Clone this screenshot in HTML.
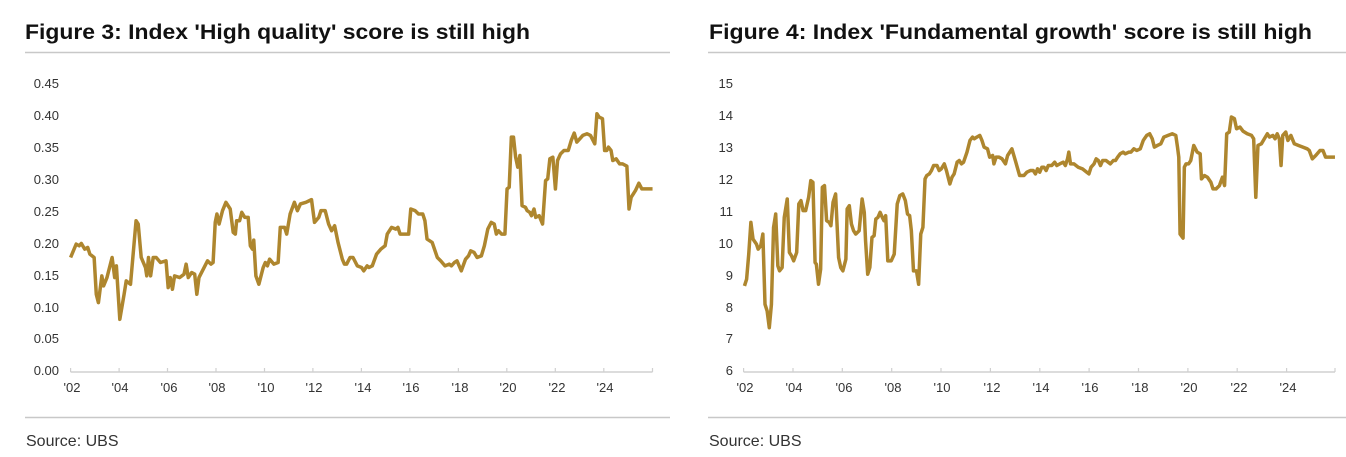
<!DOCTYPE html>
<html><head><meta charset="utf-8"><style>
html,body{margin:0;padding:0;background:#fff;}
svg{display:block;font-family:"Liberation Sans",sans-serif;}
</style></head><body>
<svg width="1346" height="457" viewBox="0 0 1346 457" xmlns="http://www.w3.org/2000/svg">
<rect width="1346" height="457" fill="#fff"/>
<!-- Left panel -->
<text x="25" y="39" font-size="21" font-weight="bold" fill="#111" textLength="505" lengthAdjust="spacingAndGlyphs">Figure 3: Index 'High quality' score is still high</text>
<line x1="25" y1="52.5" x2="670" y2="52.5" stroke="#c8c8c8" stroke-width="1.5"/>
<line x1="25" y1="417.5" x2="670" y2="417.5" stroke="#c8c8c8" stroke-width="1.5"/>
<text x="26" y="446" font-size="16" fill="#333">Source: UBS</text>
<g font-size="13" fill="#333" text-anchor="end">
<text x="59" y="88">0.45</text><text x="59" y="120">0.40</text><text x="59" y="152">0.35</text><text x="59" y="184">0.30</text><text x="59" y="216">0.25</text><text x="59" y="248">0.20</text><text x="59" y="280">0.15</text><text x="59" y="312">0.10</text><text x="59" y="343">0.05</text><text x="59" y="375">0.00</text>
</g>
<line x1="70.6" y1="372" x2="652.5" y2="372" stroke="#d0d0d0" stroke-width="1.5"/>
<g stroke="#d0d0d0" stroke-width="1.2">
<line x1="70.6" y1="368" x2="70.6" y2="372"/><line x1="119.1" y1="368" x2="119.1" y2="372"/><line x1="167.5" y1="368" x2="167.5" y2="372"/><line x1="216" y1="368" x2="216" y2="372"/><line x1="264.5" y1="368" x2="264.5" y2="372"/><line x1="312.9" y1="368" x2="312.9" y2="372"/><line x1="361.4" y1="368" x2="361.4" y2="372"/><line x1="409.9" y1="368" x2="409.9" y2="372"/><line x1="458.4" y1="368" x2="458.4" y2="372"/><line x1="506.8" y1="368" x2="506.8" y2="372"/><line x1="555.3" y1="368" x2="555.3" y2="372"/><line x1="603.8" y1="368" x2="603.8" y2="372"/><line x1="652.5" y1="368" x2="652.5" y2="372"/>
</g>
<g font-size="13" fill="#333" text-anchor="middle">
<text x="72" y="392">'02</text><text x="120" y="392">'04</text><text x="169" y="392">'06</text><text x="217" y="392">'08</text><text x="266" y="392">'10</text><text x="314" y="392">'12</text><text x="363" y="392">'14</text><text x="411" y="392">'16</text><text x="460" y="392">'18</text><text x="508" y="392">'20</text><text x="557" y="392">'22</text><text x="605" y="392">'24</text>
</g>
<g transform="scale(0.4279,0.3344)">
<polyline fill="none" stroke="#ae862e" stroke-width="3.5" stroke-linejoin="round" vector-effect="non-scaling-stroke" points="165,770 178,730 185,735 190,728 198,745 205,740 210,760 220,770 225,880 230,905 238,825 242,855 250,830 262,770 268,830 272,795 280,955 290,880 295,840 300,845 305,850 318,660 323,670 330,770 340,800 343,825 347,770 352,825 358,770 365,770 375,785 388,780 393,860 398,830 403,865 408,825 420,830 430,820 435,790 440,830 448,815 455,820 460,880 465,830 475,805 485,780 493,790 498,785 503,665 507,640 512,670 520,630 528,605 538,625 545,695 550,700 553,660 560,660 565,635 572,650 580,650 585,735 590,745 593,718 598,825 605,850 615,800 620,785 625,795 630,775 640,790 650,785 655,680 665,680 670,700 678,640 688,605 695,630 702,610 715,605 728,597 735,665 745,650 750,630 760,630 768,670 775,690 782,675 790,725 800,775 805,790 810,790 818,770 825,770 835,795 845,800 850,810 858,795 862,800 870,795 880,760 890,745 900,735 905,700 915,680 925,685 930,680 935,700 945,700 955,700 960,625 970,630 978,640 988,640 993,660 998,715 1010,725 1022,770 1030,780 1040,795 1050,790 1055,795 1062,785 1068,780 1078,810 1088,775 1095,765 1100,750 1108,755 1115,770 1125,765 1132,735 1140,685 1148,665 1155,670 1160,700 1165,690 1172,700 1180,700 1185,565 1190,560 1195,410 1200,410 1205,470 1210,500 1215,465 1220,615 1228,620 1232,630 1238,635 1242,645 1248,625 1252,650 1260,645 1268,670 1275,540 1280,535 1285,475 1292,470 1298,565 1303,480 1310,460 1318,450 1328,450 1335,420 1342,398 1348,425 1355,415 1362,405 1372,400 1380,405 1390,430 1395,340 1400,350 1408,355 1413,450 1418,450 1422,440 1428,450 1432,480 1440,475 1448,490 1455,490 1465,497 1470,625 1475,590 1485,570 1493,548 1500,565 1510,565 1525,565"/>
</g>
<!-- Right panel -->
<text x="709" y="39" font-size="21" font-weight="bold" fill="#111" textLength="603" lengthAdjust="spacingAndGlyphs">Figure 4: Index 'Fundamental growth' score is still high</text>
<line x1="708" y1="52.5" x2="1346" y2="52.5" stroke="#c8c8c8" stroke-width="1.5"/>
<line x1="708" y1="417.5" x2="1346" y2="417.5" stroke="#c8c8c8" stroke-width="1.5"/>
<text x="709" y="446" font-size="16" fill="#333">Source: UBS</text>
<g font-size="13" fill="#333" text-anchor="end">
<text x="733" y="88">15</text><text x="733" y="120">14</text><text x="733" y="152">13</text><text x="733" y="184">12</text><text x="733" y="216">11</text><text x="733" y="248">10</text><text x="733" y="280">9</text><text x="733" y="312">8</text><text x="733" y="343">7</text><text x="733" y="375">6</text>
</g>
<line x1="743.6" y1="372" x2="1335" y2="372" stroke="#d0d0d0" stroke-width="1.5"/>
<g stroke="#d0d0d0" stroke-width="1.2">
<line x1="743.6" y1="368" x2="743.6" y2="372"/><line x1="793" y1="368" x2="793" y2="372"/><line x1="842.3" y1="368" x2="842.3" y2="372"/><line x1="891.7" y1="368" x2="891.7" y2="372"/><line x1="941" y1="368" x2="941" y2="372"/><line x1="990.4" y1="368" x2="990.4" y2="372"/><line x1="1039.8" y1="368" x2="1039.8" y2="372"/><line x1="1089.1" y1="368" x2="1089.1" y2="372"/><line x1="1138.5" y1="368" x2="1138.5" y2="372"/><line x1="1187.9" y1="368" x2="1187.9" y2="372"/><line x1="1237.2" y1="368" x2="1237.2" y2="372"/><line x1="1286.6" y1="368" x2="1286.6" y2="372"/><line x1="1335" y1="368" x2="1335" y2="372"/>
</g>
<g font-size="13" fill="#333" text-anchor="middle">
<text x="745" y="392">'02</text><text x="794" y="392">'04</text><text x="844" y="392">'06</text><text x="893" y="392">'08</text><text x="942" y="392">'10</text><text x="992" y="392">'12</text><text x="1041" y="392">'14</text><text x="1090" y="392">'16</text><text x="1140" y="392">'18</text><text x="1189" y="392">'20</text><text x="1239" y="392">'22</text><text x="1288" y="392">'24</text>
</g>
<g transform="translate(676,0) scale(0.4279,0.3344)">
<polyline fill="none" stroke="#ae862e" stroke-width="3.5" stroke-linejoin="round" vector-effect="non-scaling-stroke" points="160,855 165,835 170,760 175,665 180,715 188,730 192,745 198,735 203,700 208,910 213,930 218,980 223,910 228,680 233,640 238,795 242,810 248,800 253,650 260,595 265,755 270,765 275,780 282,755 287,610 292,600 297,630 303,630 310,590 315,540 320,545 325,785 328,790 333,850 338,805 342,560 347,555 352,660 358,665 362,675 367,605 373,580 380,770 385,800 390,810 397,775 400,625 405,615 410,670 415,690 420,700 428,690 435,595 440,635 443,720 448,820 453,800 458,710 463,705 467,655 472,650 477,635 482,650 486,660 490,645 495,780 503,780 510,760 517,610 523,585 530,580 536,600 541,640 546,645 550,690 555,810 562,810 567,850 572,700 577,680 582,535 586,525 592,520 597,510 602,495 610,495 615,510 620,505 627,490 632,510 640,550 645,530 650,520 657,485 662,480 667,490 672,485 680,455 687,420 693,410 697,415 703,410 710,405 715,420 720,440 728,445 733,470 740,465 743,490 748,470 755,470 762,475 770,490 775,465 785,445 793,480 803,525 813,525 820,515 828,510 835,510 840,520 845,505 850,515 855,500 860,500 865,510 870,495 878,495 885,485 890,495 897,490 905,485 910,495 915,475 918,455 922,490 930,490 940,500 950,505 960,515 965,520 970,500 977,490 982,475 987,480 992,495 997,480 1005,480 1010,485 1015,490 1022,480 1027,480 1032,470 1038,460 1045,455 1050,460 1058,455 1063,455 1070,445 1077,450 1085,445 1092,420 1100,405 1107,400 1113,415 1118,440 1125,435 1133,430 1140,410 1150,405 1160,400 1168,405 1172,440 1175,470 1178,700 1185,712 1188,500 1192,490 1198,490 1203,480 1210,435 1218,455 1225,460 1228,535 1235,525 1242,530 1250,545 1255,565 1262,565 1270,555 1277,530 1282,555 1287,400 1293,395 1298,350 1305,355 1310,385 1318,380 1325,392 1335,400 1345,405 1350,415 1355,590 1360,435 1368,430 1375,415 1382,400 1387,410 1395,405 1400,415 1405,400 1410,415 1414,495 1418,405 1425,395 1430,420 1437,405 1445,430 1455,435 1465,440 1475,445 1480,450 1487,475 1495,465 1505,450 1512,450 1518,470 1530,470 1540,470"/>
</g>
</svg>
</body></html>
